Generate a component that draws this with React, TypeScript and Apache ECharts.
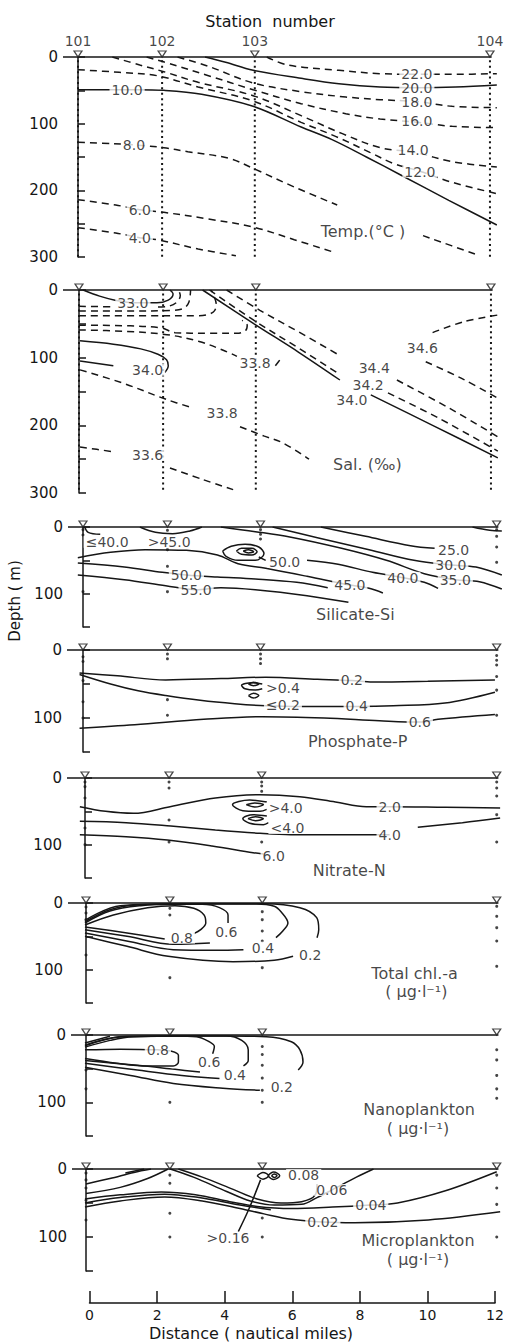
import React, { useEffect, useRef } from 'react';
import * as echarts from 'echarts';

type Pt = [number, number];
type Lbl = [string, number, number];

// ---------------- stations / axes ----------------
const STATION_NAMES = ['101', '102', '103', '104'];
const STATION_DIST = [0, 2.45, 5.15, 12.0];
const DISTANCE_TICKS = [0, 2, 4, 6, 8, 10, 12];
const DEPTH_LABELED = [0, 100, 200, 300];

// ---------------- Temperature ----------------
const TEMP_SOLID: Pt[][] = [
  [[3.7, 0], [4.3, 8], [5.1, 20], [6.5, 32], [7.6, 40], [8.8, 45], [9.9, 46], [11, 45], [12.2, 42]],
  [[0, 49], [1.7, 49], [2.5, 50], [3.6, 56], [5.1, 74], [6.5, 105], [7.4, 124], [8.4, 150], [9.4, 177], [10.8, 215], [12.2, 252]],
];
const TEMP_DASHED: Pt[][] = [
  [[5.5, 0], [6.1, 12], [7.6, 20], [8.8, 25], [10, 26], [11, 26], [12.2, 25]],
  [[2.9, 0], [3.8, 14], [5.1, 39], [6.5, 52], [7.8, 60], [8.8, 64], [9.9, 67], [10.9, 74], [12.2, 76]],
  [[2.0, 0], [2.8, 12], [3.8, 28], [5.1, 49], [6.5, 70], [7.8, 85], [8.8, 93], [9.9, 98], [10.9, 104], [12.2, 106]],
  [[1.0, 0], [1.8, 12], [2.5, 22], [3.5, 38], [5.1, 58], [6.5, 88], [7.7, 115], [8.8, 136], [9.8, 143], [10.9, 157], [12.2, 165]],
  [[0, 19], [1.2, 23], [2.3, 28], [3.5, 45], [5.1, 66], [6.5, 98], [7.5, 119], [8.5, 143], [9.2, 160], [10.0, 172], [10.9, 188], [12.2, 205]],
  [[0, 128], [1.0, 130], [1.7, 132], [2.5, 136], [3.2, 142], [4.4, 152], [5.1, 167], [6.3, 195], [7.55, 222]],
  [[10.05, 268], [11.7, 298]],
  [[0, 214], [1.1, 222], [1.8, 229], [2.5, 233], [3.8, 243], [5.1, 255], [6.3, 274], [7.4, 292]],
  [[0, 256], [1.1, 264], [1.8, 271], [2.4, 275], [3.5, 288], [4.6, 298]],
];
const TEMP_LABELS: Lbl[] = [
  ['22.0', 9.87, 25], ['20.0', 9.87, 46], ['18.0', 9.87, 67], ['16.0', 9.87, 96],
  ['14.0', 9.76, 140], ['12.0', 9.96, 172], ['10.0', 1.43, 49], ['8.0', 1.63, 132],
  ['6.0', 1.8, 229], ['4.0', 1.8, 271], ['Temp.(°C )', 8.3, 262],
];

// ---------------- Salinity ----------------
const SAL_SOLID: Pt[][] = [
  [[0.12, 0], [0.6, 9], [1.05, 15], [1.6, 19], [2.27, 19], [2.6, 15], [2.74, 6], [2.65, 0]],
  [[0.03, 75], [1.0, 80], [1.8, 87], [2.3, 95], [2.55, 103], [2.6, 112], [2.5, 122]],
  [[0.03, 105], [1.0, 112]],
  [[3.6, 0], [5.1, 50], [6.4, 92], [7.6, 133]],
  [[8.5, 155], [10.3, 200], [12.2, 248]],
];
const SAL_DASHED: Pt[][] = [
  [[0, 24], [1.0, 25]],
  [[2.3, 25], [2.6, 24], [2.85, 18], [2.95, 8], [2.9, 0]],
  [[0, 31], [1.5, 31], [2.7, 30], [3.05, 27], [3.2, 18], [3.25, 0]],
  [[0, 38], [2.0, 38], [3.5, 38], [3.9, 33], [4.0, 22], [3.85, 0]],
  [[0, 52], [1.5, 53], [2.4, 56], [2.8, 63], [3.8, 64], [4.6, 64], [4.85, 60], [4.9, 52], [4.75, 45]],
  [[0, 59], [1.3, 61], [2.56, 66], [3.5, 76], [4.2, 89], [4.6, 98]],
  [[5.72, 112], [5.9, 100]],
  [[0.03, 118], [1.3, 138], [2.56, 162], [3.3, 174]],
  [[4.69, 202], [5.4, 216], [5.94, 226], [6.7, 250]],
  [[0.03, 232], [1.0, 239]],
  [[2.65, 263], [3.6, 280], [4.49, 295]],
  [[3.8, 0], [5.1, 45], [6.4, 86], [7.6, 125]],
  [[9.0, 152], [10.5, 190], [12.2, 238]],
  [[4.3, 0], [5.27, 30], [6.4, 62], [7.6, 97]],
  [[9.26, 133], [10.8, 175], [12.2, 217]],
  [[10.3, 63], [11.2, 47], [12.2, 37]],
  [[10.1, 106], [11.2, 132], [12.2, 160]],
];
const SAL_LABELS: Lbl[] = [
  ['33.0', 1.57, 19], ['34.0', 2.0, 118], ['33.8', 5.13, 108], ['33.8', 4.17, 182],
  ['33.6', 2.0, 244], ['34.4', 8.6, 116], ['34.2', 8.42, 141], ['34.0', 7.95, 163],
  ['34.6', 10.0, 86], ['Sal. (‰)', 8.4, 258],
];

// ---------------- Silicate ----------------
const SIL_SOLID: Pt[][] = [
  [[6.9, 0], [8.2, 14], [9.5, 28], [10.2, 32]],
  [[5.5, 0], [6.8, 16], [8.3, 34], [9.6, 50], [10.67, 57], [11.4, 60], [12.15, 72]],
  [[4.0, 0], [5.0, 7], [6.0, 15], [7.5, 32], [8.8, 50], [9.9, 70], [10.8, 79], [11.5, 82], [12.15, 93]],
  [[6.5, 50], [7.4, 56], [8.4, 68], [9.28, 76], [9.9, 83], [10.3, 92]],
  [[-0.15, 46], [0.8, 38], [1.8, 34], [3.0, 35], [3.9, 42], [4.5, 55], [5.3, 62], [6.5, 74], [7.74, 87], [8.3, 92], [8.7, 99]],
  [[-0.15, 54], [1.2, 60], [2.3, 68], [3.0, 72], [3.9, 75], [5.0, 78], [6.2, 83], [7.1, 91]],
  [[-0.15, 72], [1.2, 79], [2.4, 88], [3.28, 94], [4.0, 91], [5.0, 94], [6.5, 103], [7.7, 113]],
  [[0.05, 0], [0.15, 8], [0.5, 11]],
  [[1.65, 0], [2.1, 8], [2.6, 10], [3.1, 6], [3.45, 0]],
  [[11.3, 0], [11.8, 5], [12.15, 6]],
  [[4.05, 36], [4.3, 29], [4.7, 26], [5.1, 30], [5.25, 40], [5.0, 50], [4.5, 50], [4.15, 44], [4.05, 36]],
  [[4.45, 36], [4.6, 32], [4.9, 32], [5.05, 37], [4.9, 42], [4.6, 41], [4.45, 36]],
  [[4.65, 36], [4.8, 34], [4.95, 37], [4.8, 39], [4.65, 36]],
  [[5.1, 45], [5.3, 50]],
];
const SIL_LABELS: Lbl[] = [
  ['≤40.0', 0.7, 22], ['>45.0', 2.5, 22], ['50.0', 5.85, 52], ['50.0', 3.0, 72],
  ['55.0', 3.28, 94], ['45.0', 7.74, 87], ['40.0', 9.28, 76], ['35.0', 10.8, 80],
  ['30.0', 10.67, 57], ['25.0', 10.75, 34], ['Silicate-Si', 7.9, 131],
];
const SIL_SAMPLES: number[][] = [[4, 12, 97], [5, 34, 59, 97], [4, 11, 18], [4, 14, 30, 53]];

// ---------------- Phosphate ----------------
const PHOS_SOLID: Pt[][] = [
  [[-0.1, 34], [1.0, 38], [2.4, 44], [4.0, 42], [5.3, 40], [6.8, 43], [7.8, 45], [8.4, 47], [10, 46], [11.95, 44]],
  [[-0.1, 36], [0.8, 50], [1.6, 60], [2.4, 67], [3.4, 74], [4.4, 79], [5.3, 82], [6.4, 83], [7.94, 83], [9.0, 82], [10.5, 78], [11.95, 62]],
  [[-0.1, 115], [1.5, 110], [3.5, 102], [5.2, 98], [7.0, 100], [8.6, 104], [9.77, 106], [10.3, 102], [11.95, 95]],
  [[5.2, 50], [4.9, 48], [4.6, 52], [4.7, 57], [5.0, 59], [5.2, 57]],
  [[4.8, 50], [4.95, 47.5], [5.1, 50], [4.95, 52.5], [4.8, 50]],
  [[4.8, 67], [4.95, 63.5], [5.1, 67], [4.95, 70.5], [4.8, 67]],
];
const PHOS_LABELS: Lbl[] = [
  ['>0.4', 5.8, 56], ['≤0.2', 5.8, 81], ['0.2', 7.8, 44], ['0.4', 7.94, 83],
  ['0.6', 9.77, 106], ['Phosphate-P', 7.97, 135],
];
const PHOS_SAMPLES: number[][] = [[10, 17, 45, 76, 100], [6, 13, 73, 96], [6, 13, 20], [8, 15, 22, 39, 59, 96]];

// ---------------- Nitrate ----------------
const NIT_SOLID: Pt[][] = [
  [[-0.15, 43], [0.6, 50], [1.41, 53], [2.48, 43], [3.8, 30], [5.1, 25], [6.26, 28], [7.3, 36], [8.2, 43], [8.88, 43], [10.5, 44], [12.1, 45]],
  [[-0.15, 65], [1.2, 67], [2.5, 72], [3.8, 78], [5.1, 83], [6.0, 85], [7.5, 85], [8.88, 85]],
  [[9.7, 74], [11.0, 67], [12.1, 60]],
  [[-0.15, 85], [1.2, 88], [2.4, 93], [3.7, 102], [4.9, 112], [5.2, 114]],
  [[5.3, 36], [4.8, 33], [4.3, 40], [4.6, 49], [5.1, 50], [5.3, 47]],
  [[4.7, 40], [4.95, 37.5], [5.2, 40], [4.95, 43.5], [4.7, 40]],
  [[5.3, 57], [4.9, 55], [4.6, 61], [4.8, 68], [5.2, 70], [5.35, 67]],
  [[4.75, 61], [4.97, 58], [5.2, 61], [4.97, 64], [4.75, 61]],
];
const NIT_LABELS: Lbl[] = [
  ['>4.0', 5.85, 45], ['<4.0', 5.9, 75], ['2.0', 8.88, 43], ['4.0', 8.88, 85],
  ['6.0', 5.5, 117], ['Nitrate-N', 7.7, 138],
];
const NIT_SAMPLES: number[][] = [[6, 13, 30, 75, 100], [6, 15, 63, 96], [6, 12, 20, 96], [6, 15, 27, 55, 96]];

// ---------------- Total chl-a ----------------
const CHL_SOLID: Pt[][] = [
  [[-0.03, 33], [0.8, 18], [1.8, 7], [2.6, 4], [3.15, 8], [3.45, 18], [3.5, 30], [3.35, 40], [3.15, 46]],
  [[-0.03, 36], [1.2, 45], [2.3, 54]],
  [[-0.03, 30], [0.7, 12], [1.6, 4], [2.5, 2], [3.4, 2], [3.9, 7], [4.15, 18], [4.15, 30]],
  [[-0.03, 40], [1.2, 50], [2.55, 62], [3.62, 60]],
  [[-0.03, 28], [0.7, 10], [1.5, 3], [3, 1.5], [4.98, 1.5], [5.5, 5], [5.71, 14], [5.9, 30], [5.75, 42], [5.55, 52]],
  [[-0.03, 45], [1.3, 58], [2.55, 70], [3.8, 71], [4.6, 70]],
  [[-0.03, 26], [1.0, 4], [3, 1.2], [5.2, 1.2], [6.25, 7], [6.74, 22], [6.8, 40], [6.75, 52]],
  [[-0.03, 50], [1.2, 65], [2.4, 80], [4.3, 88], [5.5, 86], [6.05, 80]],
];
const CHL_LABELS: Lbl[] = [
  ['0.8', 2.8, 52], ['0.6', 4.1, 43], ['0.4', 5.17, 67], ['0.2', 6.55, 78],
  ['Total chl.-a', 9.6, 106], ['( μg·l⁻¹)', 9.65, 133],
];
const CHL_SAMPLES: number[][] = [[6, 15, 25, 78], [8, 18, 112], [13, 25, 42, 57, 97], [5, 20, 37, 57, 95]];

// ---------------- Nanoplankton ----------------
const NANO_SOLID: Pt[][] = [
  [[-0.03, 12], [0.7, 2]],
  [[-0.03, 22], [1.0, 21], [2.1, 22], [2.5, 24], [2.7, 30], [2.7, 40], [2.55, 46], [1.8, 46], [0.9, 42], [-0.03, 35]],
  [[-0.03, 18], [0.7, 8], [1.38, 2.5], [2.6, 1.5], [3.23, 2.5], [3.6, 10], [3.75, 17], [3.7, 28]],
  [[-0.03, 38], [1.5, 45], [2.6, 51], [3.33, 55]],
  [[-0.03, 16], [1.0, 3], [3, 1.5], [4.11, 1.5], [4.55, 8], [4.74, 22], [4.74, 38], [4.6, 46]],
  [[-0.03, 42], [1.5, 52], [2.8, 60], [3.9, 64.7]],
  [[-0.03, 15], [1.2, 2], [4, 1.5], [5.27, 2.5], [6.0, 10], [6.25, 22], [6.34, 40], [6.2, 52]],
  [[-0.03, 48], [1.3, 60], [2.55, 72], [4.0, 79], [5.08, 82]],
];
const NANO_LABELS: Lbl[] = [
  ['0.8', 2.1, 22], ['0.6', 3.6, 40], ['0.4', 4.35, 60], ['0.2', 5.72, 77],
  ['Nanoplankton', 9.73, 111], ['( μg·l⁻¹)', 9.7, 139],
];
const NANO_SAMPLES: number[][] = [[52, 80], [100], [17, 29, 45, 64, 82, 100], [22, 37, 60, 80, 94]];

// ---------------- Microplankton ----------------
const MICRO_SOLID: Pt[][] = [
  [[0, 22], [0.7, 14], [1.4, 5], [1.9, 0]],
  [[0, 36], [1.0, 27], [1.8, 14], [2.4, 0]],
  [[1.15, 6], [1.7, 0]],
  [[-0.03, 44], [1.0, 38], [2.2, 34], [3.2, 38], [4.2, 48], [5.0, 55], [6.0, 58], [7.2, 56], [8.32, 53], [9.1, 50], [10.5, 32], [12.0, 4]],
  [[-0.03, 50], [1.0, 42], [2.3, 37], [3.3, 42], [4.5, 53], [5.4, 60]],
  [[-0.03, 56], [1.0, 47], [2.3, 41], [3.4, 47], [4.5, 58], [5.2, 66], [6.0, 74], [6.92, 78], [7.85, 79], [10.0, 75], [12.1, 63]],
  [[2.46, 0], [3.14, 12], [4.11, 33], [4.8, 47], [5.5, 53], [6.3, 52], [6.75, 42], [7.18, 31], [7.9, 12], [8.4, 0]],
  [[2.7, 0], [3.4, 12], [4.3, 30], [5.0, 44], [5.7, 50], [6.3, 48], [6.7, 38], [6.75, 22]],
  [[5.0, 10], [5.17, 5], [5.34, 10], [5.17, 15], [5.0, 10]],
  [[5.31, 10], [5.48, 4.5], [5.66, 10], [5.48, 15.5], [5.31, 10]],
  [[5.42, 10], [5.5, 7.5], [5.58, 10], [5.5, 12.5], [5.42, 10]],
  [[5.1, 16], [4.75, 60], [4.45, 92]],
];
const MICRO_LABELS: Lbl[] = [
  ['0.08', 6.36, 9], ['0.06', 7.18, 31], ['0.04', 8.32, 53], ['0.02', 6.92, 78],
  ['>0.16', 4.15, 101], ['Microplankton', 9.7, 105], ['( μg·l⁻¹)', 9.7, 133],
];
const MICRO_SAMPLES: number[][] = [[6, 16, 28, 46, 75], [9, 21, 65, 100], [72, 100], [9, 28, 52, 100]];

// ---------------- layout (pixels) ----------------
const LAYOUT = [
  { x0: 78, k: 34.33, axisX: 63, y0: 57, y1: 257, max: 300 },
  { x0: 79, k: 34.33, axisX: 63, y0: 290, y1: 493, max: 300 },
  { x0: 83, k: 34.5, axisX: 68, y0: 527, y1: 627, max: 150 },
  { x0: 83, k: 34.5, axisX: 67, y0: 650, y1: 752, max: 150 },
  { x0: 85, k: 34.33, axisX: 67, y0: 778, y1: 878, max: 150 },
  { x0: 86, k: 34.25, axisX: 68, y0: 903, y1: 1003, max: 150 },
  { x0: 86, k: 34.25, axisX: 71, y0: 1035, y1: 1136, max: 150 },
  { x0: 86, k: 34.25, axisX: 72, y0: 1169, y1: 1271, max: 150 },
];

const PANELS = [
  { solid: TEMP_SOLID, dashed: TEMP_DASHED, labels: TEMP_LABELS, samples: null as number[][] | null, dotted: true },
  { solid: SAL_SOLID, dashed: SAL_DASHED, labels: SAL_LABELS, samples: null, dotted: true },
  { solid: SIL_SOLID, dashed: [] as Pt[][], labels: SIL_LABELS, samples: SIL_SAMPLES, dotted: false },
  { solid: PHOS_SOLID, dashed: [], labels: PHOS_LABELS, samples: PHOS_SAMPLES, dotted: false },
  { solid: NIT_SOLID, dashed: [], labels: NIT_LABELS, samples: NIT_SAMPLES, dotted: false },
  { solid: CHL_SOLID, dashed: [], labels: CHL_LABELS, samples: CHL_SAMPLES, dotted: false },
  { solid: NANO_SOLID, dashed: [], labels: NANO_LABELS, samples: NANO_SAMPLES, dotted: false },
  { solid: MICRO_SOLID, dashed: [], labels: MICRO_LABELS, samples: MICRO_SAMPLES, dotted: false },
];

const INK = '#161616';
const FONT = '"DejaVu Sans", sans-serif';
const X_MAX = 12.3;

function isTitle(t: string) {
  return /^[A-Za-z(]/.test(t);
}

function buildOption() {
  const grid: any[] = [];
  const xAxis: any[] = [];
  const yAxis: any[] = [];
  const series: any[] = [];

  PANELS.forEach((p, i) => {
    const L = LAYOUT[i];
    const xMin = (L.axisX - L.x0) / L.k;
    grid.push({ left: L.axisX, top: L.y0, width: (X_MAX - xMin) * L.k, height: L.y1 - L.y0 });
    xAxis.push({ gridIndex: i, type: 'value', min: xMin, max: X_MAX, show: false });
    yAxis.push({
      gridIndex: i, type: 'value', inverse: true, min: 0, max: L.max, interval: 50,
      axisLine: { show: true, lineStyle: { color: INK, width: 1.5 } },
      axisTick: { show: true, inside: true, length: 7, lineStyle: { color: INK, width: 1.5 } },
      axisLabel: {
        show: true, margin: 5, fontSize: 15, color: INK, fontFamily: FONT,
        formatter: (v: number) => (DEPTH_LABELED.indexOf(v) >= 0 ? String(v) : ''),
      },
      splitLine: { show: false },
    });

    const base = { xAxisIndex: i, yAxisIndex: i, silent: true };
    series.push({
      ...base, type: 'line', symbol: 'none', clip: false, z: 3,
      data: [[xMin, 0], [STATION_DIST[3] + 0.05, 0]],
      lineStyle: { color: INK, width: 1.6 },
    });
    if (p.dotted) {
      STATION_DIST.forEach((d) => {
        series.push({
          ...base, type: 'line', symbol: 'none', z: 2,
          data: [[d, 5], [d, L.max]],
          lineStyle: { color: INK, width: 2, type: [2, 3.4], cap: 'butt' },
        });
      });
    }
    if (p.samples) {
      const pts: Pt[] = [];
      p.samples.forEach((arr, si) => arr.forEach((z) => pts.push([STATION_DIST[si], z])));
      series.push({
        ...base, type: 'scatter', symbol: 'circle', symbolSize: 3, z: 3,
        itemStyle: { color: INK }, data: pts,
      });
    }
    p.solid.forEach((seg) => {
      series.push({
        ...base, type: 'line', symbol: 'none', smooth: 0.35, z: 2, data: seg,
        lineStyle: { color: INK, width: 1.5 },
      });
    });
    p.dashed.forEach((seg) => {
      series.push({
        ...base, type: 'line', symbol: 'none', smooth: 0.35, z: 2, data: seg,
        lineStyle: { color: INK, width: 1.5, type: [7, 5] },
      });
    });
    series.push({
      ...base, type: 'scatter', symbol: 'triangle', symbolRotate: 180, symbolSize: [8, 6],
      symbolOffset: [0, -3], z: 6,
      itemStyle: { color: '#fff', borderColor: INK, borderWidth: 1.2 },
      data: STATION_DIST.map((d) => [d, 0]),
    });
    if (i === 0) {
      series.push({
        ...base, type: 'scatter', symbolSize: 1, z: 6,
        itemStyle: { color: 'rgba(0,0,0,0)' },
        data: STATION_DIST.map((d, si) => ({ value: [d, 0], label: { formatter: STATION_NAMES[si] } })),
        label: { show: true, position: 'top', distance: 9, fontSize: 14, color: INK, fontFamily: FONT },
      });
    }
    series.push({
      ...base, type: 'scatter', symbolSize: 1, z: 8,
      itemStyle: { color: 'rgba(0,0,0,0)' },
      data: p.labels.map(([t, d, z]) => ({
        value: [d, z],
        label: { formatter: t, fontSize: isTitle(t) ? 16 : 14, lineHeight: isTitle(t) ? 14 : 12 },
      })),
      label: {
        show: true, position: 'inside', fontSize: 14, color: INK, fontFamily: FONT,
        backgroundColor: '#fff', padding: [0, 2], lineHeight: 12,
      },
    });
  });

  const bi = PANELS.length;
  grid.push({ left: 89.5, top: 1290, width: 405.5, height: 13 });
  xAxis.push({
    gridIndex: bi, type: 'value', min: DISTANCE_TICKS[0], max: DISTANCE_TICKS[DISTANCE_TICKS.length - 1],
    interval: 2, position: 'bottom',
    axisLine: { show: true, lineStyle: { color: INK, width: 1.5 } },
    axisTick: { show: true, inside: true, length: 12, lineStyle: { color: INK, width: 1.5 } },
    axisLabel: { show: true, fontSize: 14, color: INK, fontFamily: FONT, margin: 5 },
    splitLine: { show: false },
  });
  yAxis.push({ gridIndex: bi, type: 'value', show: false, min: 0, max: 1 });

  const graphic = [
    {
      type: 'text', x: 270, y: 21,
      style: { text: 'Station  number', font: `16px ${FONT}`, fill: INK, textAlign: 'center', textVerticalAlign: 'middle', verticalAlign: 'middle' },
    },
    {
      type: 'text', x: 15, y: 601, rotation: Math.PI / 2,
      style: { text: 'Depth ( m)', font: `15px ${FONT}`, fill: INK, textAlign: 'center', textVerticalAlign: 'middle', verticalAlign: 'middle' },
    },
    {
      type: 'text', x: 251, y: 1333,
      style: { text: 'Distance ( nautical miles)', font: `16px ${FONT}`, fill: INK, textAlign: 'center', textVerticalAlign: 'middle', verticalAlign: 'middle' },
    },
  ];

  return { animation: false, backgroundColor: '#fff', grid, xAxis, yAxis, series, graphic };
}

export default function App() {
  const ref = useRef<HTMLDivElement>(null);
  useEffect(() => {
    if (!ref.current) return;
    const chart = echarts.init(ref.current, undefined, { renderer: 'svg' });
    chart.setOption(buildOption() as any);
    return () => chart.dispose();
  }, []);
  return (
    <div
      ref={ref}
      style={{ position: 'absolute', left: 0, top: 0, width: 507, height: 1344, background: '#fff' }}
    />
  );
}
